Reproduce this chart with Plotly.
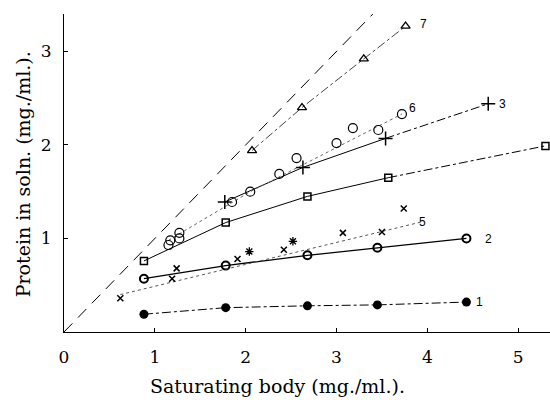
import plotly.graph_objects as go

# ---- data ----
s1_x = [0.88, 1.78, 2.68, 3.45, 4.43]
s1_y = [0.19, 0.26, 0.28, 0.29, 0.32]

s2_x = [0.88, 1.78, 2.68, 3.45, 4.43]
s2_y = [0.57, 0.71, 0.82, 0.90, 1.00]

s3_x = [1.77, 2.63, 3.54, 4.67]
s3_y = [1.39, 1.76, 2.07, 2.44]

s4_x = [0.88, 1.78, 2.68, 3.57, 5.30]
s4_y = [0.76, 1.17, 1.45, 1.65, 1.99]

s5_x = [0.62, 1.19, 1.24, 1.91, 2.42, 3.07, 3.50, 3.74]
s5_y = [0.36, 0.57, 0.68, 0.78, 0.88, 1.06, 1.07, 1.32]
s5b_x = [2.04, 2.52]
s5b_y = [0.86, 0.97]
s5_line_x = [0.62, 3.95]
s5_line_y = [0.40, 1.18]

s6_x = [1.15, 1.17, 1.27, 1.27, 1.85, 2.05, 2.37, 2.56, 3.00, 3.18, 3.46, 3.72]
s6_y = [0.93, 0.98, 1.00, 1.06, 1.39, 1.50, 1.69, 1.86, 2.02, 2.18, 2.16, 2.33]
s6_line_x = [1.15, 2.05, 3.72]
s6_line_y = [0.98, 1.50, 2.33]

s7_x = [2.07, 2.62, 3.30, 3.76]
s7_y = [1.94, 2.40, 2.92, 3.27]

diag_x = [0, 3.45]
diag_y = [0, 3.45]

x_ticks = [0, 1, 2, 3, 4, 5]
y_ticks = [1, 2, 3]

labels = ["1", "2", "3", "5", "6", "7"]
label_x = [4.57, 4.67, 4.83, 3.95, 3.84, 3.96]
label_y = [0.32, 0.99, 2.44, 1.18, 2.40, 3.29]

BLK = "black"
FONT = "DejaVu Serif"

fig = go.Figure()

# diagonal dashed line
fig.add_trace(go.Scatter(x=diag_x, y=diag_y, mode="lines",
                         line=dict(color=BLK, width=1, dash="12px,8px")))

# series 1
fig.add_trace(go.Scatter(x=s1_x, y=s1_y, mode="lines+markers",
                         line=dict(color=BLK, width=1, dash="dashdot"),
                         marker=dict(symbol="circle", size=9, color=BLK)))
# series 2
fig.add_trace(go.Scatter(x=s2_x, y=s2_y, mode="lines+markers",
                         line=dict(color=BLK, width=1.3),
                         marker=dict(symbol="circle-open", size=8,
                                     color=BLK, line=dict(width=2, color=BLK))))
# series 3
fig.add_trace(go.Scatter(x=s3_x[:3], y=s3_y[:3], mode="lines",
                         line=dict(color=BLK, width=1)))
fig.add_trace(go.Scatter(x=s3_x[2:], y=s3_y[2:], mode="lines",
                         line=dict(color=BLK, width=1, dash="dashdot")))
fig.add_trace(go.Scatter(x=s3_x, y=s3_y, mode="markers",
                         marker=dict(symbol="cross-thin-open", size=10, color=BLK,
                                     line=dict(width=1.5, color=BLK))))
# series 4
fig.add_trace(go.Scatter(x=s4_x[:4], y=s4_y[:4], mode="lines",
                         line=dict(color=BLK, width=1)))
fig.add_trace(go.Scatter(x=s4_x[3:], y=s4_y[3:], mode="lines",
                         line=dict(color=BLK, width=1, dash="dashdot")))
fig.add_trace(go.Scatter(x=s4_x, y=s4_y, mode="markers",
                         marker=dict(symbol="square-open", size=7,
                                     color=BLK, line=dict(width=1.5, color=BLK))))
# series 5
fig.add_trace(go.Scatter(x=s5_line_x, y=s5_line_y, mode="lines",
                         line=dict(color="#555", width=1, dash="dot")))
fig.add_trace(go.Scatter(x=s5_x, y=s5_y, mode="markers",
                         marker=dict(symbol="x-thin-open", size=6, color=BLK,
                                     line=dict(width=1.5, color=BLK))))
fig.add_trace(go.Scatter(x=s5b_x, y=s5b_y, mode="markers",
                         marker=dict(symbol="asterisk-open", size=7, color=BLK,
                                     line=dict(width=1.3, color=BLK))))
# series 6
fig.add_trace(go.Scatter(x=s6_line_x, y=s6_line_y, mode="lines",
                         line=dict(color="#666", width=1, dash="dot")))
fig.add_trace(go.Scatter(x=s6_x, y=s6_y, mode="markers",
                         marker=dict(symbol="circle-open", size=9,
                                     color=BLK, line=dict(width=1.2, color=BLK))))
# series 7
fig.add_trace(go.Scatter(x=s7_x, y=s7_y, mode="lines+markers",
                         line=dict(color="#444", width=1, dash="dashdot"),
                         marker=dict(symbol="triangle-up-open", size=8,
                                     color=BLK, line=dict(width=1.3, color=BLK))))

for t, lx, ly in zip(labels, label_x, label_y):
    fig.add_annotation(x=lx, y=ly, text=t, showarrow=False,
                       font=dict(family="Liberation Sans", size=12, color=BLK))

# axis titles
fig.add_annotation(xref="paper", yref="paper", x=0.44, y=-0.17,
                   text="Saturating body (mg./ml.).", showarrow=False,
                   xanchor="center", yanchor="middle",
                   font=dict(family=FONT, size=19, color=BLK))
fig.add_annotation(xref="paper", yref="paper", x=-0.085, y=0.495,
                   text="Protein in soln. (mg./ml.).", showarrow=False,
                   textangle=-90, xanchor="center", yanchor="middle",
                   font=dict(family=FONT, size=19, color=BLK))

fig.update_layout(
    width=550, height=400,
    margin=dict(l=64, r=0, t=14, b=68),
    paper_bgcolor="white", plot_bgcolor="white",
    showlegend=False,
    xaxis=dict(range=[0, 5.35], tickvals=x_ticks, showgrid=False, zeroline=False,
               showline=True, linecolor=BLK, linewidth=1,
               ticks="inside", ticklen=4, tickcolor=BLK,
               tickfont=dict(family=FONT, size=17, color=BLK), ticklabelstandoff=10),
    yaxis=dict(range=[0, 3.4], tickvals=y_ticks, showgrid=False, zeroline=False,
               showline=True, linecolor=BLK, linewidth=1,
               ticks="inside", ticklen=4, tickcolor=BLK,
               tickfont=dict(family=FONT, size=17, color=BLK), ticklabelstandoff=8),
)

fig.write_html("out.html")
